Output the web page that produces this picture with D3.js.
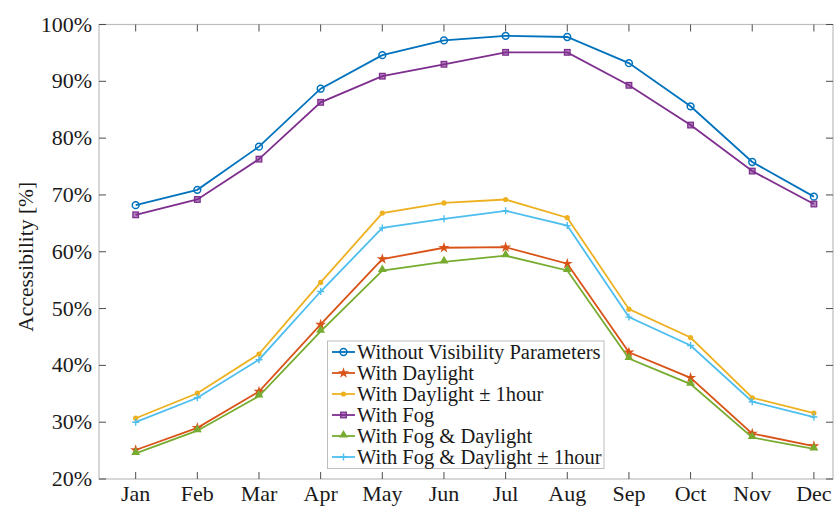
<!DOCTYPE html>
<html>
<head>
<meta charset="utf-8">
<script src="https://cdn.jsdelivr.net/npm/d3@7"></script>
<style>
  body { margin: 0; background: #fff; }
  svg text { font-family: 'Liberation Serif', 'Times New Roman', Times, 'DejaVu Serif', serif; fill: #1a1a1a; }
</style>
</head>
<body>
<svg id="chart" width="834" height="507" font-family="Liberation Serif, Times New Roman, serif"></svg>
<script>
// month categories and y ticks
const months = ['Jan', 'Feb', 'Mar', 'Apr', 'May', 'Jun', 'Jul', 'Aug', 'Sep', 'Oct', 'Nov', 'Dec']
const yTicks = [20, 30, 40, 50, 60, 70, 80, 90, 100]

// series values, percent
const withoutVisibility = [68.2, 70.9, 78.5, 88.7, 94.6, 97.2, 98.0, 97.8, 93.2, 85.6, 75.8, 69.7]
const withDaylight = [25.1, 29.0, 35.4, 47.2, 58.7, 60.7, 60.8, 57.9, 42.3, 37.8, 28.0, 25.8]
const withDaylight1h = [30.7, 35.1, 42.0, 54.6, 66.8, 68.6, 69.2, 66.0, 49.9, 44.9, 34.3, 31.6]
const withFog = [66.5, 69.2, 76.3, 86.3, 90.9, 93.0, 95.1, 95.1, 89.3, 82.3, 74.2, 68.4]
const withFogDaylight = [24.5, 28.5, 34.6, 46.0, 56.7, 58.2, 59.3, 56.7, 41.2, 36.7, 27.3, 25.3]
const withFogDaylight1h = [30.0, 34.3, 41.0, 53.0, 64.2, 65.8, 67.2, 64.6, 48.5, 43.5, 33.6, 30.9]

const series = [
    { name: 'Without Visibility Parameters', values: withoutVisibility, color: '#0072BD', marker: 'circle' },
    { name: 'With Daylight', values: withDaylight, color: '#D95319', marker: 'star' },
    { name: 'With Daylight \u00b1 1hour', values: withDaylight1h, color: '#EDB120', marker: 'dot' },
    { name: 'With Fog', values: withFog, color: '#7E2F8E', marker: 'square' },
    { name: 'With Fog & Daylight', values: withFogDaylight, color: '#77AC30', marker: 'triangle' },
    { name: 'With Fog & Daylight \u00b1 1hour', values: withFogDaylight1h, color: '#4DBEEE', marker: 'plus' }
]

const svg = d3.select('#chart')
const plotL = 99, plotR = 833, plotT = 24.5, plotB = 479

const x = d3.scaleLinear().domain([0.405, 12.31]).range([plotL, plotR])
const y = d3.scaleLinear().domain([20, 100]).range([plotB, plotT])

// frame
svg.append('rect')
    .attr('x', plotL).attr('y', plotT)
    .attr('width', plotR - plotL).attr('height', plotB - plotT)
    .attr('fill', 'none').attr('stroke', '#bdbdbd').attr('stroke-width', 1.2)

// inward ticks, box on
const tickLen = 7
const tickG = svg.append('g').attr('stroke', '#4d4d4d').attr('stroke-width', 1)
months.forEach((m, i) => {
    const px = x(i + 1)
    tickG.append('line').attr('x1', px).attr('x2', px).attr('y1', plotB).attr('y2', plotB - tickLen)
    tickG.append('line').attr('x1', px).attr('x2', px).attr('y1', plotT).attr('y2', plotT + tickLen)
})
yTicks.forEach(t => {
    const py = y(t)
    tickG.append('line').attr('x1', plotL).attr('x2', plotL + tickLen).attr('y1', py).attr('y2', py)
    tickG.append('line').attr('x1', plotR).attr('x2', plotR - tickLen).attr('y1', py).attr('y2', py)
})

// tick labels
svg.append('g').selectAll('text').data(months).join('text')
    .attr('x', (d, i) => x(i + 1)).attr('y', 501)
    .attr('text-anchor', 'middle').attr('font-size', 22)
    .text(d => d)

svg.append('g').selectAll('text').data(yTicks).join('text')
    .attr('x', 92).attr('y', d => y(d) + 7)
    .attr('text-anchor', 'end').attr('font-size', 22)
    .text(d => d + '%')

svg.append('text')
    .attr('transform', 'translate(33,' + ((plotT + plotB) / 2 + 5) + ') rotate(-90)')
    .attr('text-anchor', 'middle').attr('font-size', 21.5)
    .text('Accessibility [%]')

// marker drawing
function drawMarker(g, kind, color) {
    if (kind === 'circle') {
        g.append('circle').attr('r', 3.4).attr('fill', 'none').attr('stroke', color).attr('stroke-width', 1.5)
    } else if (kind === 'dot') {
        g.append('circle').attr('r', 2.6).attr('fill', color)
    } else if (kind === 'square') {
        g.append('rect').attr('x', -2.8).attr('y', -2.8).attr('width', 5.6).attr('height', 5.6)
            .attr('fill', color).attr('fill-opacity', 0.6).attr('stroke', color).attr('stroke-width', 1.3)
    } else if (kind === 'star') {
        g.append('path').attr('d', d3.symbol(d3.symbolStar, 38)()).attr('fill', color)
    } else if (kind === 'triangle') {
        g.append('path').attr('d', d3.symbol(d3.symbolTriangle, 34)()).attr('fill', color)
            .attr('transform', 'translate(0,-1)')
    } else if (kind === 'plus') {
        g.append('path').attr('d', 'M-3.5,0H3.5M0,-3.5V3.5').attr('stroke', color).attr('stroke-width', 1.4)
    }
}

const line = d3.line().x((d, i) => x(i + 1)).y(d => y(d))

series.forEach(s => {
    svg.append('path')
        .datum(s.values)
        .attr('d', line)
        .attr('fill', 'none')
        .attr('stroke', s.color)
        .attr('stroke-width', 1.8)
    s.values.forEach((v, i) => {
        const g = svg.append('g').attr('transform', 'translate(' + x(i + 1) + ',' + y(v) + ')')
        drawMarker(g, s.marker, s.color)
    })
})

// legend
const lgX = 327.5, lgY = 341, lgW = 276.5, lgH = 127.5
const legend = svg.append('g')
legend.append('rect')
    .attr('x', lgX).attr('y', lgY).attr('width', lgW).attr('height', lgH)
    .attr('fill', '#fff').attr('stroke', '#bdbdbd').attr('stroke-width', 1)

series.forEach((s, i) => {
    const cy = lgY + 11 + i * 21
    legend.append('line')
        .attr('x1', lgX + 4.5).attr('x2', lgX + 27.5).attr('y1', cy).attr('y2', cy)
        .attr('stroke', s.color).attr('stroke-width', 1.8)
    drawMarker(legend.append('g').attr('transform', 'translate(' + (lgX + 16) + ',' + cy + ')'), s.marker, s.color)
    legend.append('text')
        .attr('x', lgX + 29.5).attr('y', cy + 6.5)
        .attr('font-size', 20.5)
        .text(s.name)
})
</script>
</body>
</html>
